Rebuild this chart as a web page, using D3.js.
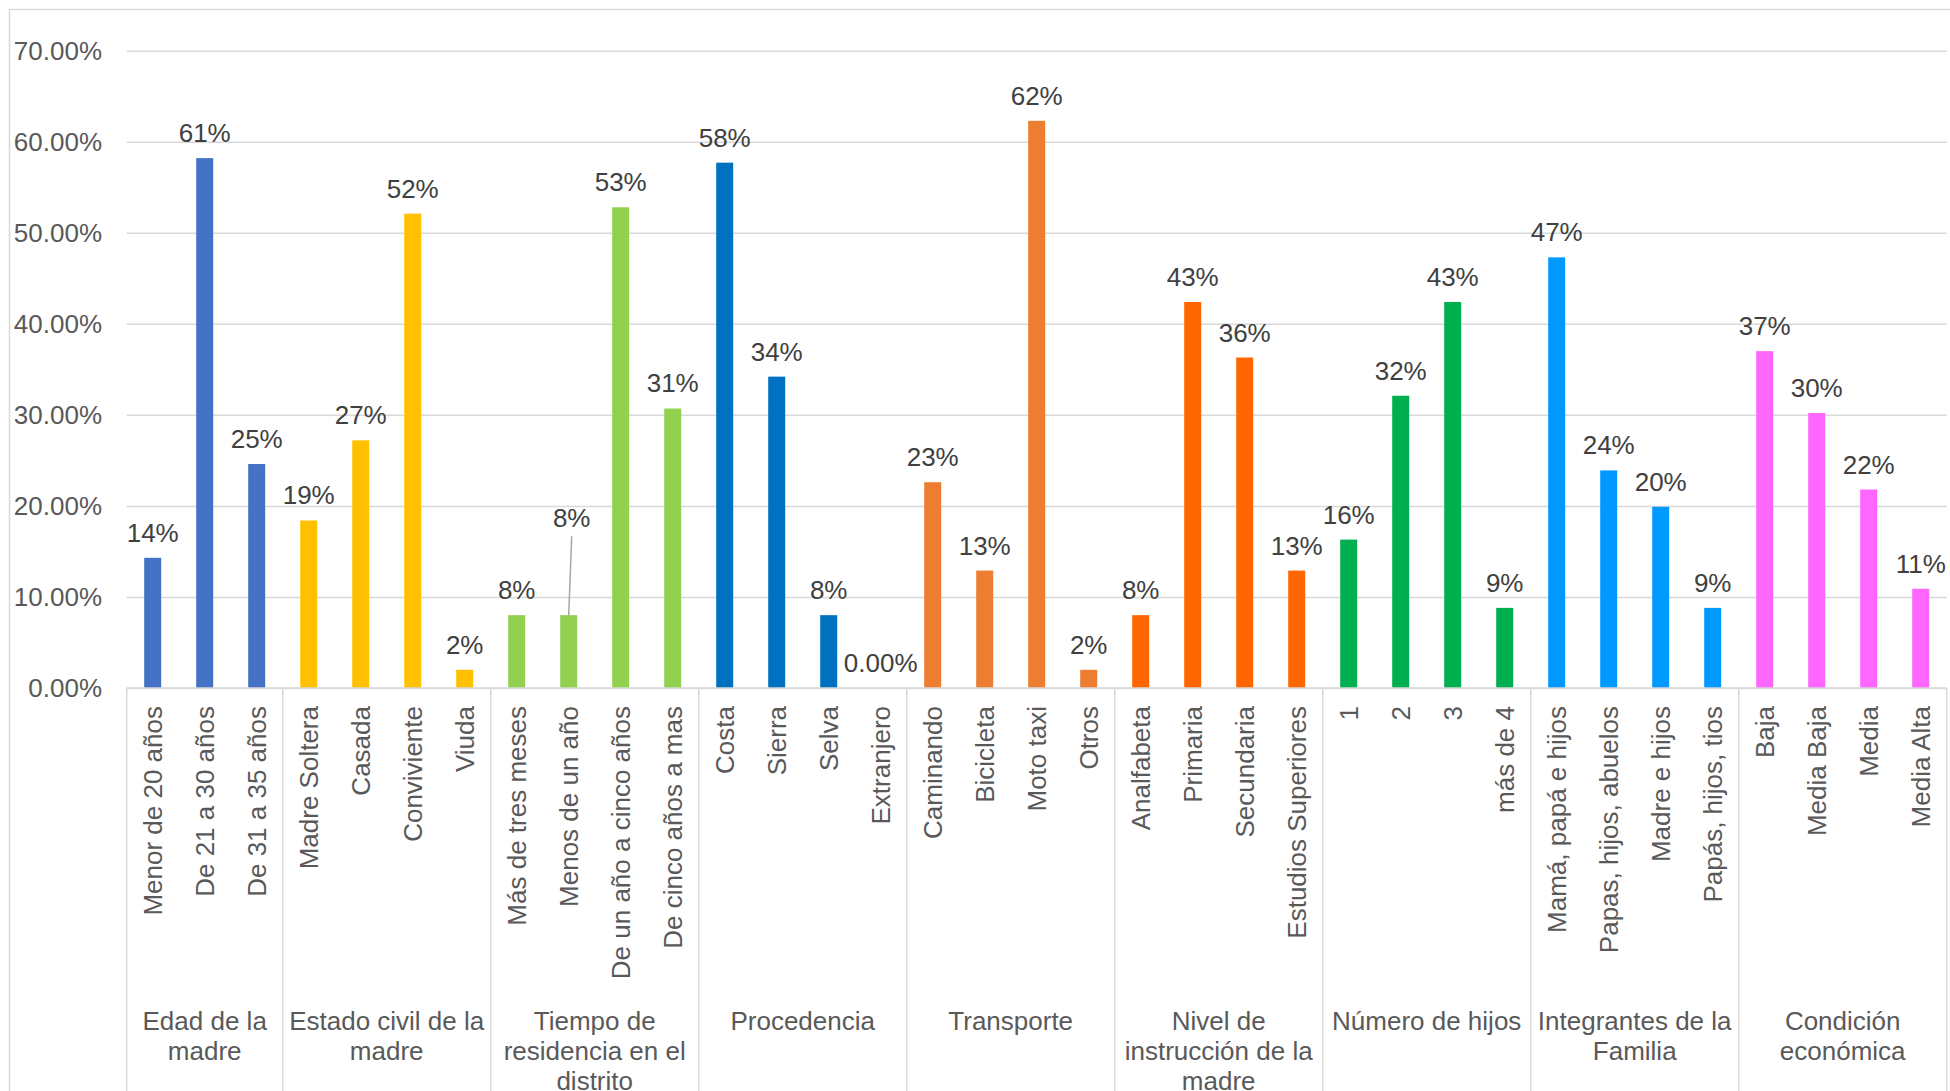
<!DOCTYPE html>
<html>
<head>
<meta charset="utf-8">
<script src="https://cdn.jsdelivr.net/npm/d3@7"></script>
<style>
  body { margin: 0; background: #fff; }
  svg text { font-family: "Liberation Sans", Arial, sans-serif; }
</style>
</head>
<body>
<svg id="chart" width="1950" height="1091"></svg>
<script>
// groups of the multi-level axis
var groupNames = [
  ["Edad de la", "madre"],
  ["Estado civil de la", "madre"],
  ["Tiempo de", "residencia en el", "distrito"],
  ["Procedencia"],
  ["Transporte"],
  ["Nivel de", "instrucción de la", "madre"],
  ["Número de hijos"],
  ["Integrantes de la", "Familia"],
  ["Condición", "económica"]
];
var groupSizes = [3, 4, 4, 4, 4, 4, 4, 4, 4];
var groupColors = ["#4472C4", "#FFC000", "#92D050", "#0070C0", "#ED7D31", "#FF6600", "#00B050", "#0099FF", "#FF66FF"];

var categories = [
  "Menor de 20 años", "De 21 a 30 años", "De 31 a 35 años",
  "Madre Soltera", "Casada", "Conviviente", "Viuda",
  "Más de tres meses", "Menos de un año", "De un año a cinco años", "De cinco años a mas",
  "Costa", "Sierra", "Selva", "Extranjero",
  "Caminando", "Bicicleta", "Moto taxi", "Otros",
  "Analfabeta", "Primaria", "Secundaria", "Estudios Superiores",
  "1", "2", "3", "más de 4",
  "Mamá, papá e hijos", "Papas, hijos, abuelos", "Madre e hijos", "Papás, hijos, tios",
  "Baja", "Media Baja", "Media", "Media Alta"
];

// bar heights as drawn
var values = [
  0.143, 0.582, 0.246,
  0.184, 0.272, 0.521, 0.020,
  0.080, 0.080, 0.528, 0.307,
  0.577, 0.342, 0.080, 0.000,
  0.226, 0.129, 0.623, 0.020,
  0.080, 0.424, 0.363, 0.129,
  0.163, 0.321, 0.424, 0.088,
  0.473, 0.239, 0.199, 0.088,
  0.370, 0.302, 0.218, 0.109
];

// data labels as printed
var labels = [
  "14%", "61%", "25%",
  "19%", "27%", "52%", "2%",
  "8%", "8%", "53%", "31%",
  "58%", "34%", "8%", "0.00%",
  "23%", "13%", "62%", "2%",
  "8%", "43%", "36%", "13%",
  "16%", "32%", "43%", "9%",
  "47%", "24%", "20%", "9%",
  "37%", "30%", "22%", "11%"
];

var yTicks = [0, 0.1, 0.2, 0.3, 0.4, 0.5, 0.6, 0.7];

// label that was dragged up with a leader line
var calloutIndex = 8;
var calloutLift = 72;

var svg = d3.select("#chart");
var plotLeft = 126.7, plotRight = 1946.7, plotTop = 50.7, plotBase = 688;
var gridColor = "#D9D9D9";

// outer chart border (runs off the right and bottom of the picture)
svg.append("rect")
  .attr("x", 9.5).attr("y", 9.5)
  .attr("width", 2000).attr("height", 1200)
  .attr("fill", "none").attr("stroke", gridColor).attr("stroke-width", 1.5);

var x = d3.scaleBand()
  .domain(d3.range(categories.length))
  .range([plotLeft, plotRight])
  .paddingInner(0.673)
  .paddingOuter(0.3365);

var y = d3.scaleLinear().domain([0, 0.7]).range([plotBase, plotTop]);

// group index for each category
var groupOf = [];
groupSizes.forEach(function(n, g) {
  for (var i = 0; i < n; i++) groupOf.push(g);
});

// gridlines + y labels
var yAxis = d3.axisLeft(y)
  .tickValues(yTicks)
  .tickFormat(d3.format(".2%"))
  .tickSize(-(plotRight - plotLeft))
  .tickPadding(24.7);

var gy = svg.append("g")
  .attr("transform", "translate(" + plotLeft + ",0)")
  .call(yAxis);
gy.select(".domain").remove();
gy.selectAll(".tick line").attr("stroke", gridColor).attr("stroke-width", 1.5);
gy.selectAll(".tick text")
  .attr("fill", "#595959")
  .style("font-size", "26px")
  .style("font-family", "'Liberation Sans', Arial, sans-serif");

// bars
svg.append("g").selectAll("rect")
  .data(values)
  .enter().append("rect")
  .attr("x", function(d, i) { return x(i); })
  .attr("width", x.bandwidth())
  .attr("y", function(d) { return y(d); })
  .attr("height", function(d) { return plotBase - y(d); })
  .attr("fill", function(d, i) { return groupColors[groupOf[i]]; });

// data labels
var step = x.step();
svg.append("g").selectAll("text")
  .data(labels)
  .enter().append("text")
  .attr("x", function(d, i) { return x(i) + x.bandwidth() / 2 + (i == calloutIndex ? 3 : 0); })
  .attr("y", function(d, i) { return y(values[i]) - 16 - (i == calloutIndex ? calloutLift : 0); })
  .attr("text-anchor", "middle")
  .attr("fill", "#404040")
  .style("font-size", "26px")
  .text(function(d) { return d; });

// leader line for the raised label
var cx = x(calloutIndex) + x.bandwidth() / 2;
svg.append("line")
  .attr("x1", cx + 3).attr("y1", y(values[calloutIndex]) - 16 - calloutLift + 9)
  .attr("x2", cx).attr("y2", y(values[calloutIndex]))
  .attr("stroke", "#A6A6A6").attr("stroke-width", 1.5);

// category axis line
svg.append("line")
  .attr("x1", plotLeft).attr("x2", plotRight)
  .attr("y1", plotBase).attr("y2", plotBase)
  .attr("stroke", gridColor).attr("stroke-width", 1.5);

// group separators
var bounds = [0];
groupSizes.forEach(function(n, g) { bounds.push(bounds[g] + n); });
svg.append("g").selectAll("line")
  .data(bounds)
  .enter().append("line")
  .attr("x1", function(b) { return plotLeft + b * step; })
  .attr("x2", function(b) { return plotLeft + b * step; })
  .attr("y1", plotBase).attr("y2", 1100)
  .attr("stroke", gridColor).attr("stroke-width", 1.5);

// category labels (rotated)
svg.append("g").selectAll("text")
  .data(categories)
  .enter().append("text")
  .attr("transform", function(d, i) {
    return "translate(" + (x(i) + x.bandwidth() / 2) + ",706) rotate(-90)";
  })
  .attr("text-anchor", "end")
  .attr("dy", "0.36em")
  .attr("fill", "#595959")
  .style("font-size", "26px")
  .text(function(d) { return d; });

// group labels
var gl = svg.append("g").selectAll("text")
  .data(groupNames)
  .enter().append("text")
  .attr("text-anchor", "middle")
  .attr("fill", "#595959")
  .style("font-size", "26px");
gl.each(function(lines, g) {
  var mid = plotLeft + (bounds[g] + bounds[g + 1]) / 2 * step;
  var t = d3.select(this);
  lines.forEach(function(s, k) {
    t.append("tspan").attr("x", mid).attr("y", 1030 + k * 30).text(s);
  });
});
</script>
</body>
</html>
